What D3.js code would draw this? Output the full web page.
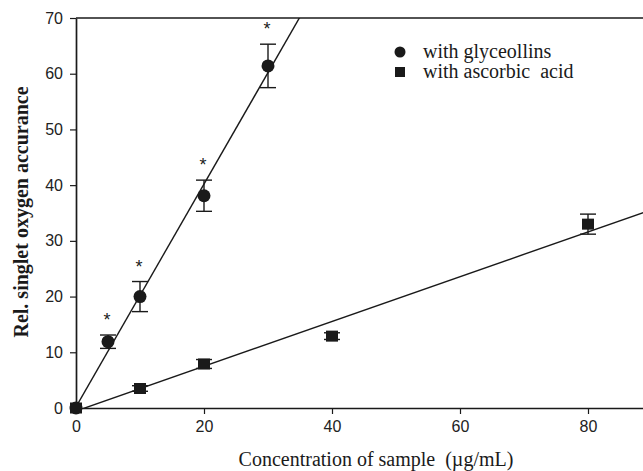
<!DOCTYPE html>
<html>
<head>
<meta charset="utf-8">
<script src="https://cdn.jsdelivr.net/npm/d3@7"></script>
<style>
  html, body { margin: 0; padding: 0; background: #fff; }
  svg { display: block; }
  text { white-space: pre; }
</style>
</head>
<body>
<svg id="chart" width="643" height="471" xml:space="preserve"></svg>
<script>
// ---- data ----
const glyX = [0, 5, 10, 20, 30];
const glyY = [0, 11.9, 20.0, 38.1, 61.4];
const glyErr = [0, 1.2, 2.7, 2.8, 3.9];
const glySig = [false, true, true, true, true];

const ascX = [0, 10, 20, 40, 80];
const ascY = [0, 3.5, 7.9, 12.9, 33.0];
const ascErr = [0, 0.5, 0.8, 0.6, 1.8];

// linear fits [slope, intercept]
const glyFit = [2.0, 0.2];
const ascFit = [0.402, -0.55];

const xTicks = [0, 20, 40, 60, 80];
const yTicks = [0, 10, 20, 30, 40, 50, 60, 70];

const legendLabels = ["with glyceollins", "with ascorbic  acid"];
const xLabel = "Concentration of sample  (\u00b5g/mL)";
const yLabel = "Rel. singlet oxygen accurance";

// ---- layout ----
(function () {
const svg = d3.select("#chart");
const mLeft = 76, mTop = 18, mBottom = 408;
const x = d3.scaleLinear().domain([0, 90]).range([mLeft, mLeft + 6.4 * 90]);
const y = d3.scaleLinear().domain([0, 70]).range([mBottom, mTop]);
const ink = "#1a1a1a";
const serif = "'Liberation Serif', 'Times New Roman', serif";
const sans = "'Liberation Sans', Arial, sans-serif";

svg.append("defs").append("clipPath").attr("id", "plotclip")
  .append("rect").attr("x", mLeft).attr("y", mTop)
  .attr("width", x(90) - mLeft).attr("height", mBottom - mTop);

// frame top line
svg.append("line").attr("x1", mLeft).attr("x2", x(90)).attr("y1", mTop).attr("y2", mTop)
  .attr("stroke", ink).attr("stroke-width", 1.7);

// axes
const xAxis = d3.axisBottom(x).tickValues(xTicks).tickSize(6).tickPadding(7).tickSizeOuter(0);
const yAxis = d3.axisLeft(y).tickValues(yTicks).tickSize(6).tickPadding(7).tickSizeOuter(0);

const gx = svg.append("g").attr("transform", `translate(0,${mBottom})`).call(xAxis);
const gy = svg.append("g").attr("transform", `translate(${mLeft},0)`).call(yAxis);
[gx, gy].forEach(g => {
  g.select(".domain").attr("stroke", ink).attr("stroke-width", 1.7);
  g.selectAll(".tick line").attr("stroke", ink).attr("stroke-width", 1.2);
  g.selectAll(".tick text").attr("fill", "#222")
    .style("font-family", sans).style("font-size", "16px");
});

// regression lines
const plot = svg.append("g").attr("clip-path", "url(#plotclip)");
const lineGen = d3.line().x(d => x(d[0])).y(d => y(d[1]));
[[glyFit, [0, 36]], [ascFit, [0, 90]]].forEach(([f, dom]) => {
  plot.append("path")
    .attr("d", lineGen(dom.map(v => [v, f[0] * v + f[1]])))
    .attr("fill", "none").attr("stroke", ink).attr("stroke-width", 1.4);
});

// error bars
function errBars(xs, ys, es) {
  const g = svg.append("g").attr("stroke", ink).attr("stroke-width", 1.4);
  xs.forEach((xv, i) => {
    if (es[i] <= 0) return;
    const cx = x(xv), y1 = y(ys[i] + es[i]), y2 = y(ys[i] - es[i]);
    g.append("line").attr("x1", cx).attr("x2", cx).attr("y1", y1).attr("y2", y2);
    g.append("line").attr("x1", cx - 8).attr("x2", cx + 8).attr("y1", y1).attr("y2", y1);
    g.append("line").attr("x1", cx - 8).attr("x2", cx + 8).attr("y1", y2).attr("y2", y2);
  });
}
errBars(glyX, glyY, glyErr);
errBars(ascX, ascY, ascErr);

// markers
svg.append("g").selectAll("circle").data(glyX).join("circle")
  .attr("cx", d => x(d)).attr("cy", (d, i) => y(glyY[i])).attr("r", 6.5)
  .attr("fill", ink);
svg.append("g").selectAll("rect").data(ascX).join("rect")
  .attr("x", d => x(d) - 6).attr("y", (d, i) => y(ascY[i]) - 5.5)
  .attr("width", 12).attr("height", 11).attr("fill", ink);

// significance asterisks
svg.append("g").selectAll("text").data(glyX.filter((d, i) => glySig[i])).join("text")
  .attr("x", d => x(d) - 1)
  .attr("y", d => { const i = glyX.indexOf(d); return y(glyY[i] + glyErr[i]) - 9; })
  .attr("text-anchor", "middle")
  .style("font-family", sans).style("font-size", "18px")
  .attr("fill", ink).text("*");

// legend
const lg = svg.append("g");
lg.append("circle").attr("cx", 400).attr("cy", 52).attr("r", 5.5).attr("fill", ink);
lg.append("rect").attr("x", 395).attr("y", 67).attr("width", 10).attr("height", 10).attr("fill", ink);
lg.selectAll("text").data(legendLabels).join("text")
  .attr("x", 423).attr("y", (d, i) => 58 + i * 20)
  .style("font-family", serif).style("font-size", "20px")
  .attr("fill", ink).text(d => d);

// axis labels
svg.append("text").attr("x", 376).attr("y", 466).attr("text-anchor", "middle")
  .style("font-family", serif).style("font-size", "20px")
  .attr("fill", ink).text(xLabel);
svg.append("text").attr("transform", "translate(28,212) rotate(-90)").attr("text-anchor", "middle")
  .style("font-family", serif).style("font-size", "20px")
  .style("font-weight", "bold").attr("fill", ink).text(yLabel);
})();
</script>
</body>
</html>
